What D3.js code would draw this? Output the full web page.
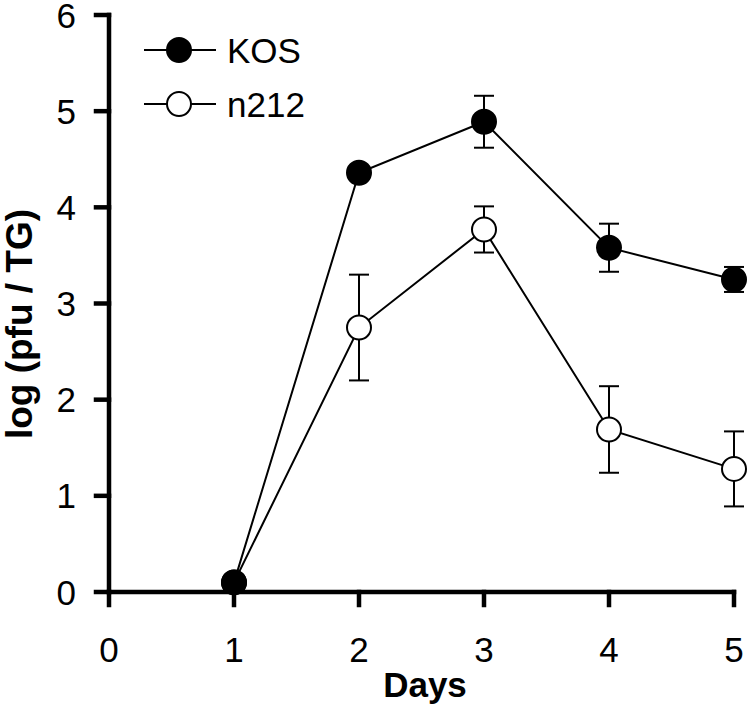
<!DOCTYPE html>
<html><head><meta charset="utf-8">
<script src="https://cdn.jsdelivr.net/npm/d3@7"></script>
<style>body{margin:0;background:#fff}svg{display:block}text{font-family:"Liberation Sans",Arial,sans-serif;fill:#000}</style>
</head><body>
<svg id="c" width="750" height="712"></svg>
<script>
const days = [1, 2, 3, 4, 5];
const kosMean = [0.1, 4.36, 4.89, 3.58, 3.25];
const kosErr  = [0, 0, 0.27, 0.25, 0.13];
const n212Mean = [0.1, 2.75, 3.77, 1.69, 1.28];
const n212Err  = [0, 0.55, 0.24, 0.45, 0.39];
const xTicks = [0, 1, 2, 3, 4, 5];
const yTicks = [0, 1, 2, 3, 4, 5, 6];
const seriesNames = ["KOS", "n212"];

const svg = d3.select("#c");
const x = d3.scaleLinear().domain([0, 5]).range([109, 734]);
const y = d3.scaleLinear().domain([0, 6]).range([592, 15]);
const T = 13;

// axes
const ax = svg.append("g").attr("stroke", "#000").attr("stroke-width", 4.5).attr("stroke-linecap", "square").attr("fill", "none");
ax.append("line").attr("x1", x(0)).attr("x2", x(0)).attr("y1", y(6)).attr("y2", y(0));
ax.append("line").attr("x1", x(0)).attr("x2", x(5)).attr("y1", y(0)).attr("y2", y(0));
yTicks.forEach(t => ax.append("line").attr("x1", x(0) - T).attr("x2", x(0)).attr("y1", y(t)).attr("y2", y(t)));
xTicks.forEach(t => ax.append("line").attr("x1", x(t)).attr("x2", x(t)).attr("y1", y(0)).attr("y2", y(0) + T));

svg.append("g").selectAll("text").data(yTicks).join("text")
  .attr("x", 76).attr("y", d => y(d) + 12.5).attr("text-anchor", "end")
  .attr("font-size", 35).text(d => d);
svg.append("g").selectAll("text").data(xTicks).join("text")
  .attr("x", d => x(d)).attr("y", 662).attr("text-anchor", "middle")
  .attr("font-size", 35).text(d => d);

svg.append("text").attr("x", 425).attr("y", 697).attr("text-anchor", "middle")
  .attr("font-size", 35).attr("font-weight", "bold").text("Days");
svg.append("text").attr("transform", "translate(32,324) rotate(-90)").attr("text-anchor", "middle")
  .attr("font-size", 37).attr("font-weight", "bold").text("log (pfu / TG)");

function drawSeries(means, errs, fill) {
  const pts = days.map((d, i) => ({ d, m: means[i], e: errs[i] }));
  const g = svg.append("g");
  const eb = g.append("g").attr("stroke", "#000").attr("stroke-width", 2);
  pts.filter(p => p.e > 0).forEach(p => {
    eb.append("line").attr("x1", x(p.d)).attr("x2", x(p.d)).attr("y1", y(p.m - p.e)).attr("y2", y(p.m + p.e));
    [p.m - p.e, p.m + p.e].forEach(v => eb.append("line").attr("x1", x(p.d) - 10).attr("x2", x(p.d) + 10).attr("y1", y(v)).attr("y2", y(v)));
  });
  g.append("path").datum(pts).attr("fill", "none").attr("stroke", "#000").attr("stroke-width", 2)
    .attr("d", d3.line().x(p => x(p.d)).y(p => y(p.m)));
  g.selectAll("circle").data(pts).join("circle")
    .attr("cx", p => x(p.d)).attr("cy", p => y(p.m)).attr("r", 12)
    .attr("fill", fill).attr("stroke", "#000").attr("stroke-width", 2);
}
drawSeries(n212Mean, n212Err, "#fff");
drawSeries(kosMean, kosErr, "#000");

// legend
const lg = svg.append("g");
[[seriesNames[0], "#000", 50], [seriesNames[1], "#fff", 104]].forEach(([name, fill, ly]) => {
  lg.append("line").attr("x1", 144).attr("x2", 216).attr("y1", ly).attr("y2", ly).attr("stroke", "#000").attr("stroke-width", 2);
  lg.append("circle").attr("cx", 179).attr("cy", ly).attr("r", 12).attr("fill", fill).attr("stroke", "#000").attr("stroke-width", 2);
  lg.append("text").attr("x", 227).attr("y", ly + 12.5).attr("font-size", 35).text(name);
});
</script>
</body></html>
